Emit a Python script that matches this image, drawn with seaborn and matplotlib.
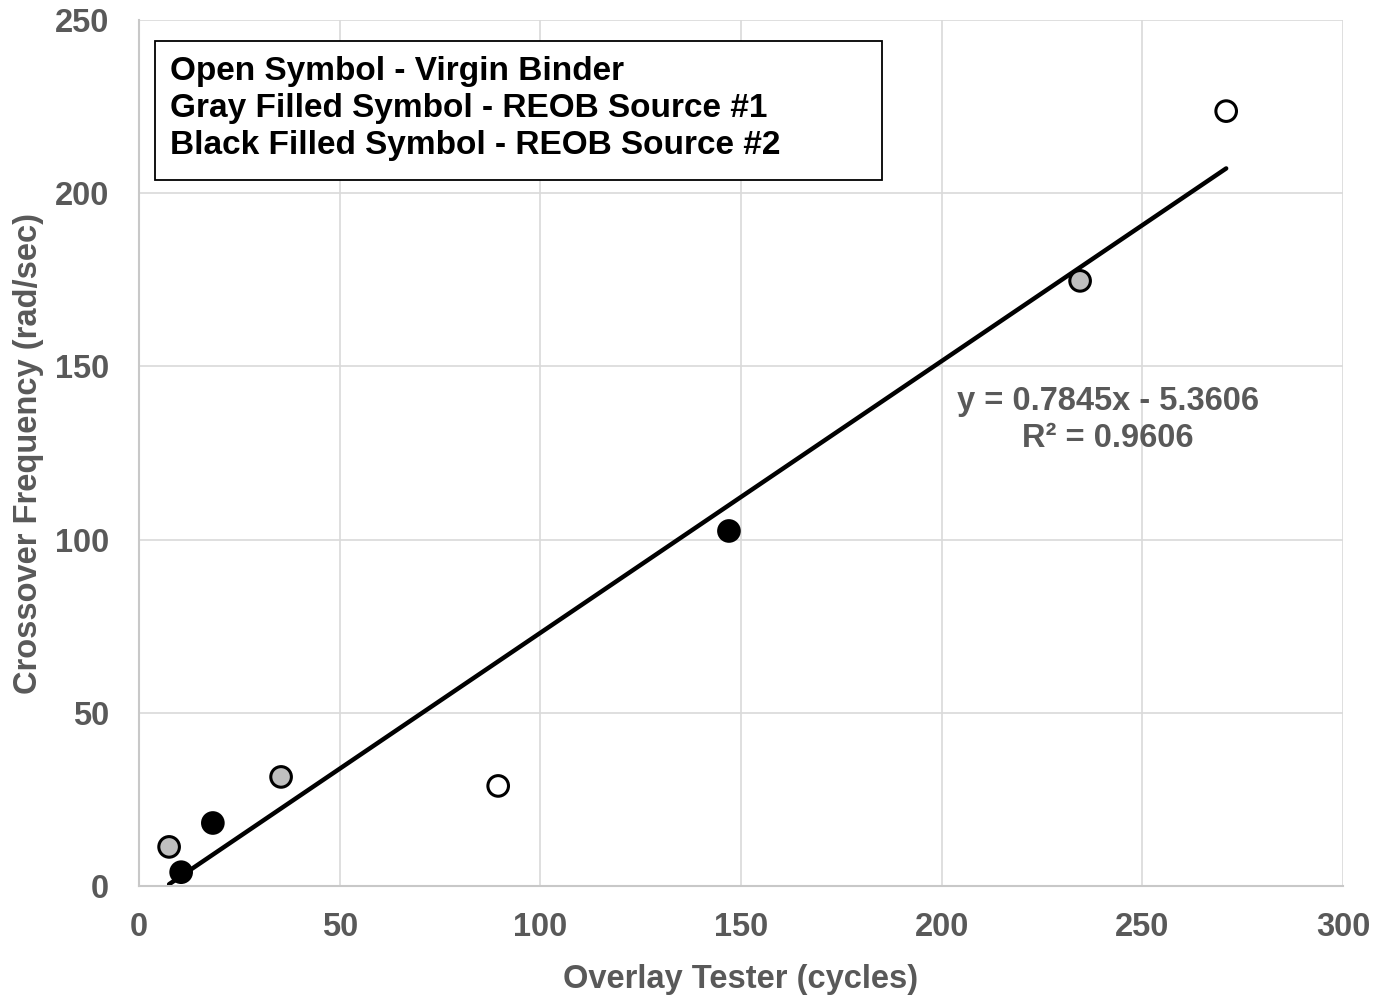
import numpy as np
import pandas as pd
import matplotlib.pyplot as plt
import seaborn as sns
from matplotlib.patches import Rectangle
from matplotlib.ticker import MultipleLocator

# Data
virgin_x = [89.5, 270.9]
virgin_y = [28.9, 223.7]
reob1_x = [7.5, 35.4, 234.5]
reob1_y = [11.3, 31.5, 174.7]
reob2_x = [10.5, 18.4, 147.0]
reob2_y = [4.0, 18.2, 102.5]

# Trendline as reported on the chart
slope = 0.7845
intercept = -5.3606
r_squared = 0.9606

groups = ['Virgin Binder', 'REOB Source #1', 'REOB Source #2']
legend_lines = ['Open Symbol - Virgin Binder',
                'Gray Filled Symbol - REOB Source #1',
                'Black Filled Symbol - REOB Source #2']

data = pd.DataFrame({
    'x': virgin_x + reob1_x + reob2_x,
    'y': virgin_y + reob1_y + reob2_y,
    'group': [groups[0]] * len(virgin_x) + [groups[1]] * len(reob1_x) + [groups[2]] * len(reob2_x),
})

sns.set_style('white')
plt.rcParams['font.family'] = ['Liberation Sans', 'DejaVu Sans']
plt.rcParams['font.weight'] = 'bold'

gray_text = '#595959'
axis_col = '#C8C8C8'
fs = 23.5

fig = plt.figure(figsize=(13.75, 9.96), dpi=100)
ax = fig.add_axes([0.1011, 0.1104, 0.8756, 0.8695])

# Trendline
trend_x = np.array([data['x'].min(), data['x'].max()])
trend = pd.DataFrame({'x': trend_x, 'y': slope * trend_x + intercept})
sns.lineplot(data=trend, x='x', y='y', ax=ax, color='black', linewidth=3.2, zorder=2)

# Points
sns.scatterplot(data=data, x='x', y='y', hue='group', hue_order=groups,
                palette={groups[0]: 'white', groups[1]: '#BFBFBF', groups[2]: 'black'},
                s=220, edgecolor='black', linewidth=2.2, legend=False, ax=ax, zorder=3)

ax.set_xlim(0, 300)
ax.set_ylim(0, 250)
ax.xaxis.set_major_locator(MultipleLocator(50))
ax.xaxis.set_minor_locator(MultipleLocator(10))
ax.yaxis.set_major_locator(MultipleLocator(50))
ax.yaxis.set_minor_locator(MultipleLocator(10))

ax.grid(True, which='major', color='#D9D9D9', linewidth=1.2, zorder=0)
ax.set_axisbelow(True)
for side in ['top', 'right']:
    ax.spines[side].set_visible(False)
for side in ['left', 'bottom']:
    ax.spines[side].set_color(axis_col)
    ax.spines[side].set_linewidth(1.5)

ax.tick_params(which='major', direction='out', length=6.5, width=1.5, color=axis_col,
               labelsize=fs, labelcolor=gray_text)
ax.tick_params(axis='x', which='major', pad=12)
ax.tick_params(axis='y', which='major', pad=15)
ax.tick_params(which='minor', direction='in', length=5, width=1.2, color=axis_col)
for lab in ax.get_xticklabels() + ax.get_yticklabels():
    lab.set_fontweight('bold')

ax.set_xlabel('Overlay Tester (cycles)', fontsize=fs, fontweight='bold', color=gray_text, labelpad=15)
ax.set_ylabel('Crossover Frequency (rad/sec)', fontsize=fs, fontweight='bold', color=gray_text, labelpad=8)

# Legend-like text box
ax.add_patch(Rectangle((0.0133, 0.815), 0.6038, 0.1607, transform=ax.transAxes,
                       facecolor='white', edgecolor='black', linewidth=1.3, zorder=4))
for i, line in enumerate(legend_lines):
    ax.text(0.0257, 0.9400 - i * 0.0427, line, transform=ax.transAxes,
            ha='left', va='center', fontsize=24, fontweight='bold', color='black', zorder=5)

# Trendline equation
eq_lines = [f'y = {slope}x - {abs(intercept)}', f'R² = {r_squared}']
for i, line in enumerate(eq_lines):
    ax.text(0.8048, 0.5600 - i * 0.0427, line, transform=ax.transAxes,
            ha='center', va='center', fontsize=fs, fontweight='bold', color=gray_text)

fig.savefig('out.png', dpi=100)
